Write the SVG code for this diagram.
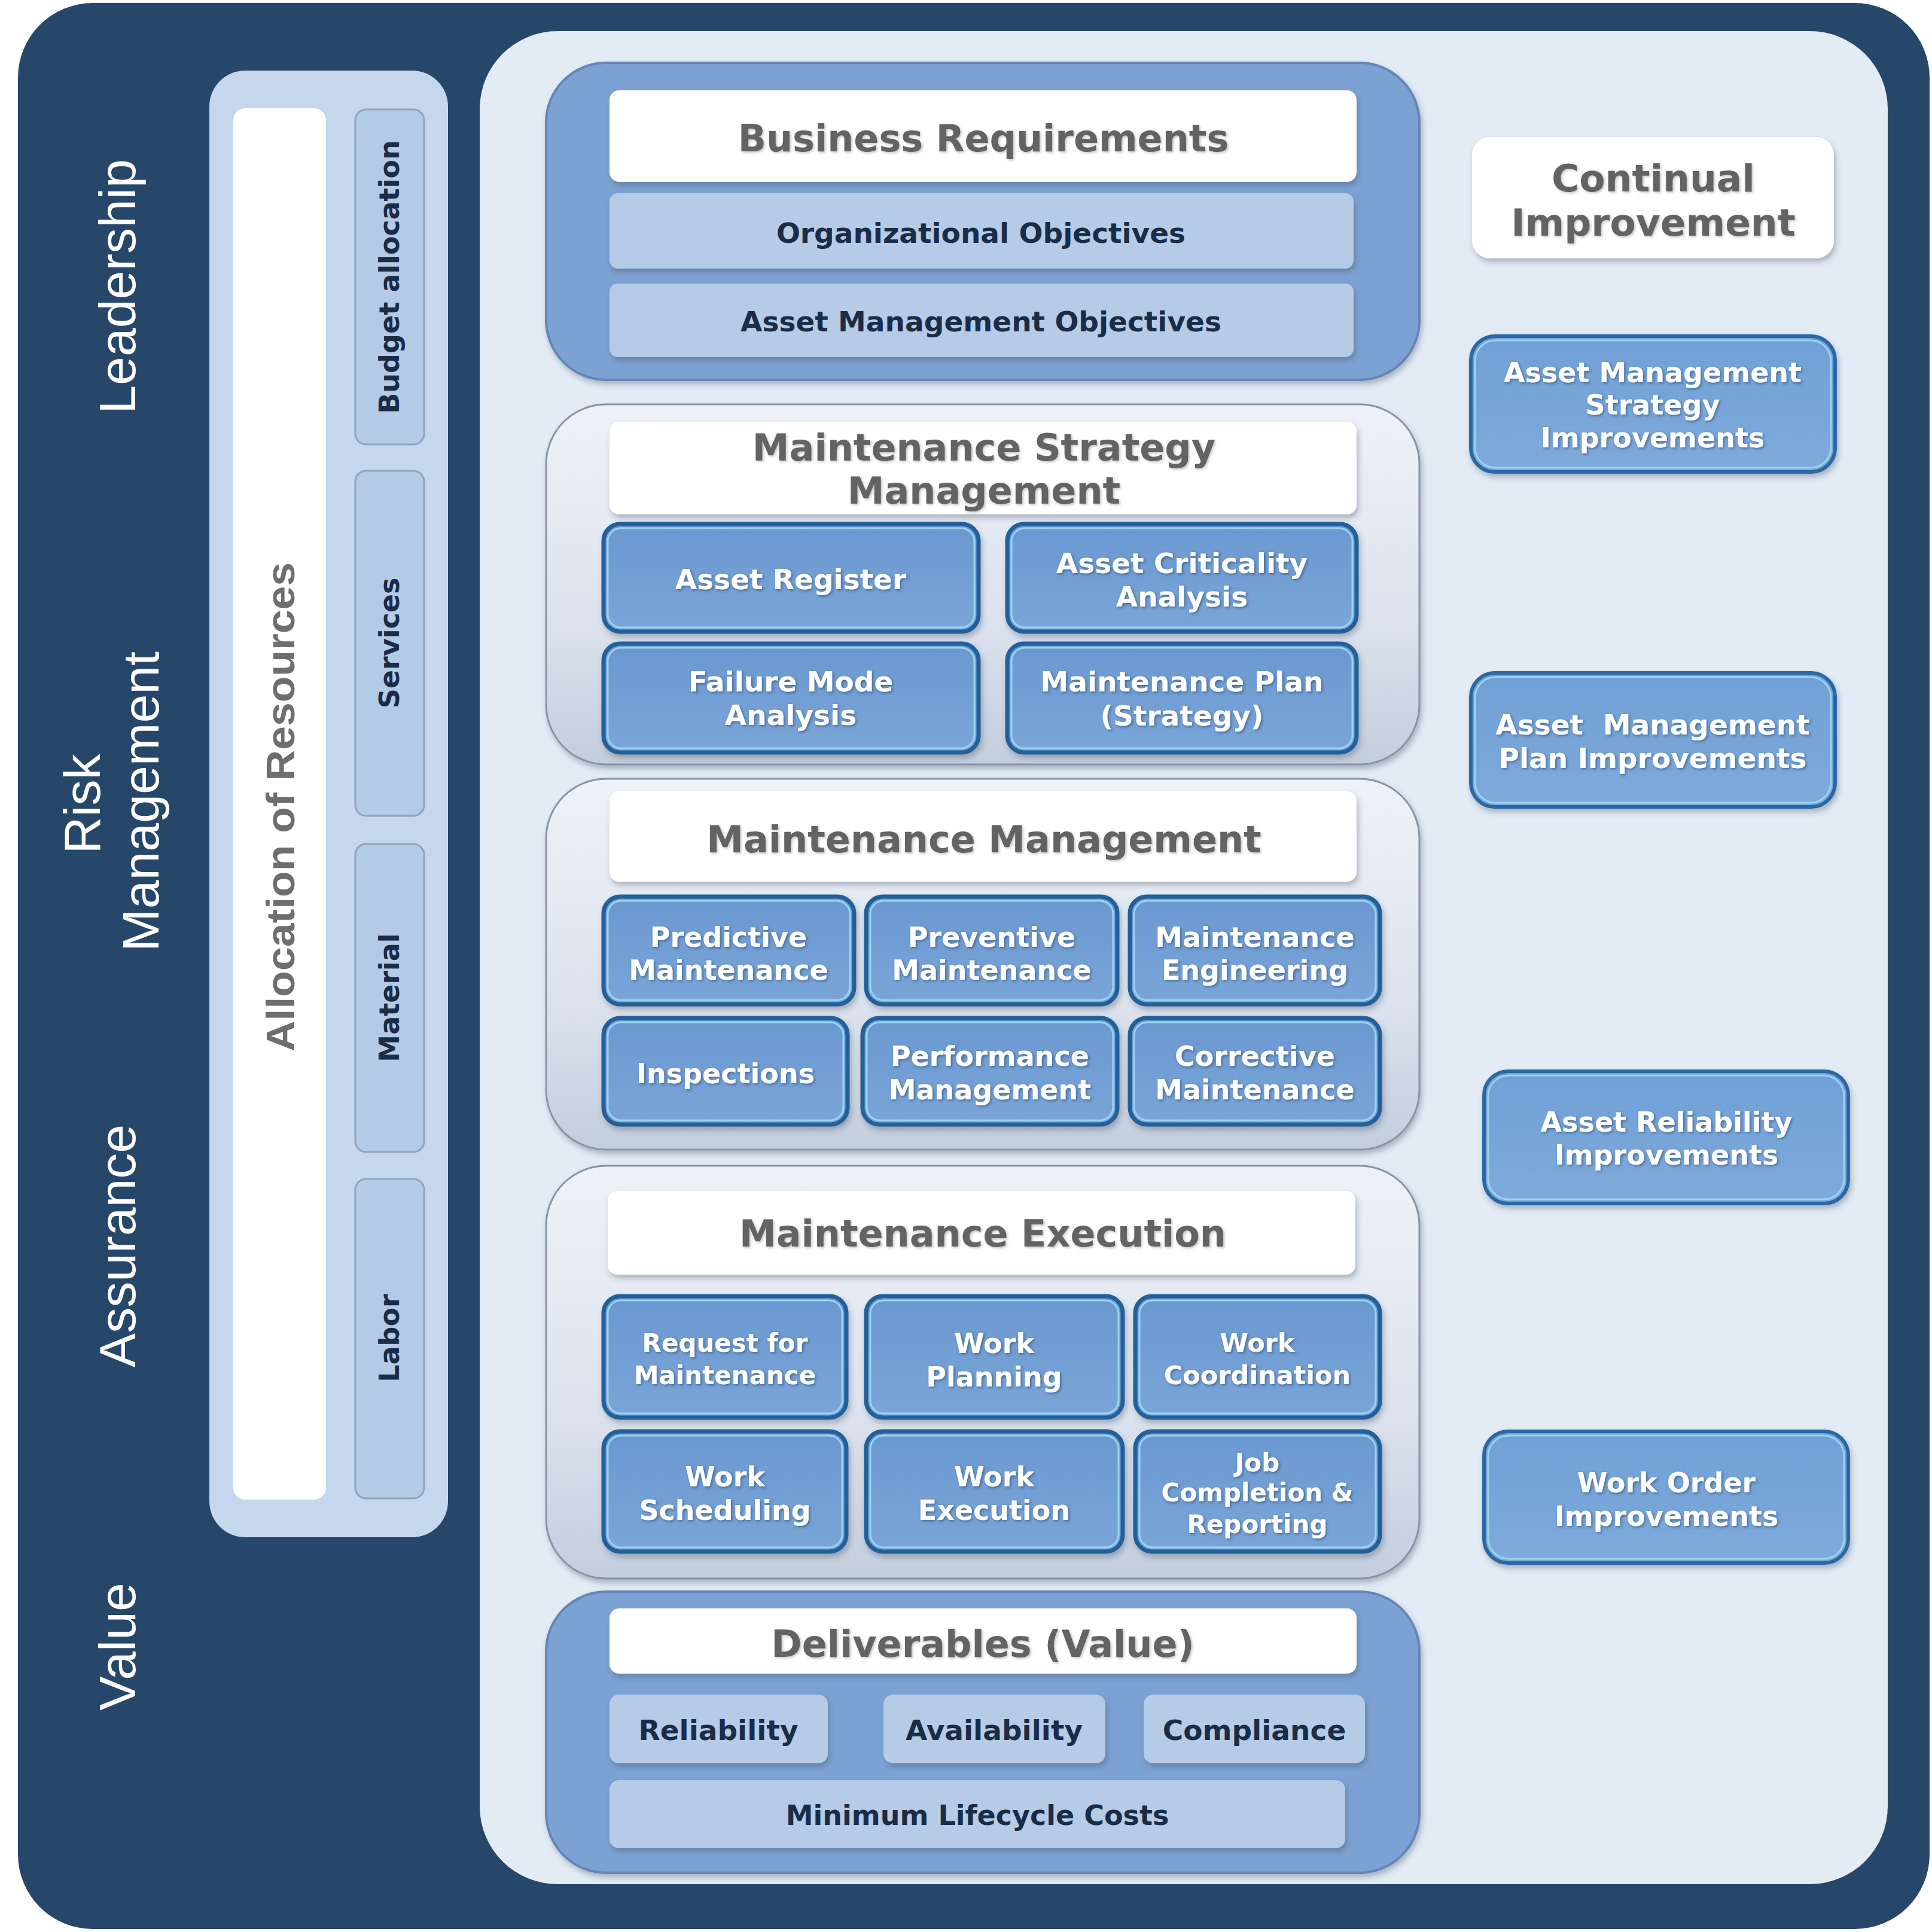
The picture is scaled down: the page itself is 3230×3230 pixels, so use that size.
<svg xmlns="http://www.w3.org/2000/svg" width="3230" height="3230" viewBox="0 0 3230 3230">
<defs>
<linearGradient id="gLight" x1="0" y1="0" x2="0" y2="1">
<stop offset="0" stop-color="#EEF2F8"/><stop offset="0.6" stop-color="#DCE3EE"/><stop offset="1" stop-color="#C3CDDC"/>
</linearGradient>
<linearGradient id="gBlue" x1="0" y1="0" x2="0" y2="1">
<stop offset="0" stop-color="#6A98D0"/><stop offset="1" stop-color="#7AA5D8"/>
</linearGradient>
<linearGradient id="gBlue2" x1="0" y1="0" x2="0" y2="1">
<stop offset="0" stop-color="#70A0D6"/><stop offset="1" stop-color="#7EAADB"/>
</linearGradient>
<filter id="sh" x="-10%" y="-10%" width="120%" height="130%">
<feDropShadow dx="3" dy="6" stdDeviation="5" flood-color="#3A4A60" flood-opacity="0.35"/>
</filter>
<filter id="ts" x="-5%" y="-20%" width="110%" height="140%">
<feDropShadow dx="2" dy="2" stdDeviation="2" flood-color="#1D3B5E" flood-opacity="0.55"/>
</filter>
<filter id="tg" x="-5%" y="-20%" width="110%" height="140%">
<feDropShadow dx="2" dy="2" stdDeviation="2" flood-color="#9A9A9A" flood-opacity="0.6"/>
</filter>
</defs>
<style>
.dark{fill:#27476A}
.panel{fill:#E3EBF5}
.respanel{fill:#C4D7EC}
.resbox{fill:#B4CBE6;stroke:#8FA3BD;stroke-width:3}
.secblue{fill:#7BA2D3;stroke:#6386B7;stroke-width:4}
.seclight{fill:url(#gLight);stroke:#8893A6;stroke-width:3}
.hdr{fill:#FFFFFF}
.bar{fill:#B5CBE6}
.bbox{fill:url(#gBlue);stroke:#22609A;stroke-width:7}
.rbox{fill:url(#gBlue2);stroke:#2A68A4;stroke-width:6}
.bin{fill:none;stroke:#9AD4F2;stroke-width:3}
.side{font-family:"Liberation Sans",Arial,sans-serif;font-size:86px;fill:#FFFFFF;text-anchor:middle}
.alloc{font-family:"Liberation Sans",Arial,sans-serif;font-weight:bold;font-size:66px;fill:#6E6E6E;text-anchor:middle}
.ht{font-family:"DejaVu Sans",Verdana,sans-serif;font-weight:bold;font-size:62px;fill:#636363;text-anchor:middle}
.dt{font-family:"DejaVu Sans",Verdana,sans-serif;font-weight:bold;font-size:47px;fill:#1B2C47;text-anchor:middle}
.wt{font-family:"DejaVu Sans",Verdana,sans-serif;font-weight:bold;font-size:46px;fill:#FFFFFF;text-anchor:middle}
</style>

<g id="background">
<rect class="dark" x="30" y="5" width="3196" height="3220" rx="125"/>
<rect class="panel" x="802" y="52" width="2354" height="3098" rx="130"/>
</g>

<g id="side-labels">
<text class="side" transform="translate(226,479) rotate(-90)">Leadership</text>
<text class="side" transform="translate(167,1344) rotate(-90)">Risk</text>
<text class="side" transform="translate(265,1340) rotate(-90)">Management</text>
<text class="side" transform="translate(226,2083) rotate(-90)">Assurance</text>
<text class="side" transform="translate(226,2753) rotate(-90)">Value</text>
</g>

<g id="resources">
<rect class="respanel" x="350" y="118" width="399" height="2452" rx="60"/>
<rect x="390" y="181" width="155" height="2326" rx="20" fill="#FFFFFF"/>
<text class="alloc" transform="translate(492,1349) rotate(-90)" textLength="818" lengthAdjust="spacingAndGlyphs">Allocation of Resources</text>
<g id="budget"><rect class="resbox" x="594" y="183" width="115" height="560" rx="18"/><text class="dt" style="font-size:46px" transform="translate(667,463) rotate(-90)">Budget allocation</text></g>
<g id="services"><rect class="resbox" x="594" y="787" width="115" height="577" rx="18"/><text class="dt" style="font-size:46px" transform="translate(667,1075) rotate(-90)">Services</text></g>
<g id="material"><rect class="resbox" x="594" y="1411" width="115" height="515" rx="18"/><text class="dt" style="font-size:46px" transform="translate(667,1668) rotate(-90)">Material</text></g>
<g id="labor"><rect class="resbox" x="594" y="1971" width="115" height="534" rx="18"/><text class="dt" style="font-size:46px" transform="translate(667,2237) rotate(-90)">Labor</text></g>
</g>

<g id="business-requirements">
<rect class="secblue" x="913" y="105" width="1460" height="530" rx="100" filter="url(#sh)"/>
<rect class="hdr" x="1019" y="151" width="1249" height="153" rx="16" filter="url(#sh)"/>
<text class="ht" x="1644" y="253" filter="url(#tg)">Business Requirements</text>
<g id="org-objectives"><rect class="bar" x="1019" y="323" width="1244" height="126" rx="14" filter="url(#sh)"/><text class="dt" x="1640" y="406">Organizational Objectives</text></g>
<g id="am-objectives"><rect class="bar" x="1019" y="474" width="1244" height="123" rx="14" filter="url(#sh)"/><text class="dt" x="1640" y="554">Asset Management Objectives</text></g>
</g>

<g id="strategy-management">
<rect class="seclight" x="913" y="676" width="1460" height="602" rx="100" filter="url(#sh)"/>
<rect class="hdr" x="1019" y="705" width="1249" height="155" rx="16" filter="url(#sh)"/>
<text class="ht" x="1645" y="770" filter="url(#tg)">Maintenance Strategy</text>
<text class="ht" x="1645" y="842" filter="url(#tg)">Management</text>
<g id="asset-register"><rect class="bbox" x="1009" y="876" width="627" height="180" rx="28" filter="url(#sh)"/><rect class="bin" x="1016" y="883" width="613" height="166" rx="22"/><text class="wt" style="font-size:47px" x="1322" y="985" filter="url(#ts)">Asset Register</text></g>
<g id="asset-criticality"><rect class="bbox" x="1684" y="876" width="584" height="180" rx="28" filter="url(#sh)"/><rect class="bin" x="1691" y="883" width="570" height="166" rx="22"/><text class="wt" style="font-size:47px" x="1976" y="958" filter="url(#ts)">Asset Criticality</text><text class="wt" style="font-size:47px" x="1976" y="1014" filter="url(#ts)">Analysis</text></g>
<g id="failure-mode"><rect class="bbox" x="1009" y="1076" width="627" height="182" rx="28" filter="url(#sh)"/><rect class="bin" x="1016" y="1083" width="613" height="168" rx="22"/><text class="wt" style="font-size:47px" x="1322" y="1156" filter="url(#ts)">Failure Mode</text><text class="wt" style="font-size:47px" x="1322" y="1212" filter="url(#ts)">Analysis</text></g>
<g id="maintenance-plan"><rect class="bbox" x="1684" y="1076" width="584" height="182" rx="28" filter="url(#sh)"/><rect class="bin" x="1691" y="1083" width="570" height="168" rx="22"/><text class="wt" style="font-size:47px" x="1976" y="1156" filter="url(#ts)">Maintenance Plan</text><text class="wt" style="font-size:47px" x="1976" y="1213" filter="url(#ts)">(Strategy)</text></g>
</g>

<g id="maintenance-management">
<rect class="seclight" x="913" y="1302" width="1460" height="620" rx="100" filter="url(#sh)"/>
<rect class="hdr" x="1019" y="1323" width="1249" height="151" rx="16" filter="url(#sh)"/>
<text class="ht" x="1645" y="1425" filter="url(#tg)">Maintenance Management</text>
<g id="predictive"><rect class="bbox" x="1009" y="1499" width="419" height="180" rx="28" filter="url(#sh)"/><rect class="bin" x="1016" y="1506" width="405" height="166" rx="22"/><text class="wt" x="1218" y="1583" filter="url(#ts)">Predictive</text><text class="wt" x="1218" y="1638" filter="url(#ts)">Maintenance</text></g>
<g id="preventive"><rect class="bbox" x="1448" y="1499" width="420" height="180" rx="28" filter="url(#sh)"/><rect class="bin" x="1455" y="1506" width="406" height="166" rx="22"/><text class="wt" x="1658" y="1583" filter="url(#ts)">Preventive</text><text class="wt" x="1658" y="1638" filter="url(#ts)">Maintenance</text></g>
<g id="maint-engineering"><rect class="bbox" x="1889" y="1499" width="418" height="180" rx="28" filter="url(#sh)"/><rect class="bin" x="1896" y="1506" width="404" height="166" rx="22"/><text class="wt" x="2098" y="1583" filter="url(#ts)">Maintenance</text><text class="wt" x="2098" y="1638" filter="url(#ts)">Engineering</text></g>
<g id="inspections"><rect class="bbox" x="1009" y="1702" width="408" height="178" rx="28" filter="url(#sh)"/><rect class="bin" x="1016" y="1709" width="394" height="164" rx="22"/><text class="wt" x="1213" y="1811" filter="url(#ts)">Inspections</text></g>
<g id="performance"><rect class="bbox" x="1442" y="1702" width="426" height="178" rx="28" filter="url(#sh)"/><rect class="bin" x="1449" y="1709" width="412" height="164" rx="22"/><text class="wt" x="1655" y="1782" filter="url(#ts)">Performance</text><text class="wt" x="1655" y="1838" filter="url(#ts)">Management</text></g>
<g id="corrective"><rect class="bbox" x="1889" y="1702" width="418" height="178" rx="28" filter="url(#sh)"/><rect class="bin" x="1896" y="1709" width="404" height="164" rx="22"/><text class="wt" x="2098" y="1782" filter="url(#ts)">Corrective</text><text class="wt" x="2098" y="1838" filter="url(#ts)">Maintenance</text></g>
</g>

<g id="maintenance-execution">
<rect class="seclight" x="913" y="1949" width="1460" height="690" rx="100" filter="url(#sh)"/>
<rect class="hdr" x="1016" y="1991" width="1250" height="140" rx="16" filter="url(#sh)"/>
<text class="ht" x="1643" y="2084" filter="url(#tg)">Maintenance Execution</text>
<g id="request"><rect class="bbox" x="1009" y="2167" width="406" height="203" rx="28" filter="url(#sh)"/><rect class="bin" x="1016" y="2174" width="392" height="189" rx="22"/><text class="wt" style="font-size:42px" x="1212" y="2260" filter="url(#ts)">Request for</text><text class="wt" style="font-size:42px" x="1212" y="2314" filter="url(#ts)">Maintenance</text></g>
<g id="work-planning"><rect class="bbox" x="1448" y="2167" width="429" height="203" rx="28" filter="url(#sh)"/><rect class="bin" x="1455" y="2174" width="415" height="189" rx="22"/><text class="wt" x="1662" y="2262" filter="url(#ts)">Work</text><text class="wt" x="1662" y="2318" filter="url(#ts)">Planning</text></g>
<g id="work-coordination"><rect class="bbox" x="1898" y="2167" width="409" height="203" rx="28" filter="url(#sh)"/><rect class="bin" x="1905" y="2174" width="395" height="189" rx="22"/><text class="wt" style="font-size:43px" x="2102" y="2260" filter="url(#ts)">Work</text><text class="wt" style="font-size:43px" x="2102" y="2314" filter="url(#ts)">Coordination</text></g>
<g id="work-scheduling"><rect class="bbox" x="1009" y="2393" width="406" height="201" rx="28" filter="url(#sh)"/><rect class="bin" x="1016" y="2400" width="392" height="187" rx="22"/><text class="wt" x="1212" y="2485" filter="url(#ts)">Work</text><text class="wt" x="1212" y="2541" filter="url(#ts)">Scheduling</text></g>
<g id="work-execution"><rect class="bbox" x="1448" y="2393" width="429" height="201" rx="28" filter="url(#sh)"/><rect class="bin" x="1455" y="2400" width="415" height="187" rx="22"/><text class="wt" x="1662" y="2485" filter="url(#ts)">Work</text><text class="wt" x="1662" y="2541" filter="url(#ts)">Execution</text></g>
<g id="job-completion"><rect class="bbox" x="1898" y="2393" width="409" height="201" rx="28" filter="url(#sh)"/><rect class="bin" x="1905" y="2400" width="395" height="187" rx="22"/><text class="wt" style="font-size:42px" x="2102" y="2460" filter="url(#ts)">Job</text><text class="wt" style="font-size:42px" x="2102" y="2510" filter="url(#ts)">Completion &amp;</text><text class="wt" style="font-size:42px" x="2102" y="2563" filter="url(#ts)">Reporting</text></g>
</g>

<g id="deliverables">
<rect class="secblue" x="913" y="2661" width="1460" height="470" rx="100" filter="url(#sh)"/>
<rect class="hdr" x="1019" y="2689" width="1249" height="109" rx="16" filter="url(#sh)"/>
<text class="ht" x="1643" y="2770" filter="url(#tg)">Deliverables (Value)</text>
<g id="reliability"><rect class="bar" x="1019" y="2833" width="365" height="115" rx="16" filter="url(#sh)"/><text class="dt" x="1201" y="2909">Reliability</text></g>
<g id="availability"><rect class="bar" x="1477" y="2833" width="371" height="115" rx="16" filter="url(#sh)"/><text class="dt" x="1662" y="2909">Availability</text></g>
<g id="compliance"><rect class="bar" x="1912" y="2833" width="370" height="115" rx="16" filter="url(#sh)"/><text class="dt" x="2097" y="2909">Compliance</text></g>
<g id="lifecycle"><rect class="bar" x="1019" y="2976" width="1230" height="114" rx="16" filter="url(#sh)"/><text class="dt" style="font-size:46px" x="1634" y="3051">Minimum Lifecycle Costs</text></g>
</g>

<g id="continual-improvement">
<rect class="hdr" x="2461" y="229" width="605" height="203" rx="30" filter="url(#sh)"/>
<text class="ht" style="font-size:63px" x="2764" y="320" filter="url(#tg)">Continual</text>
<text class="ht" style="font-size:63px" x="2764" y="394" filter="url(#tg)">Improvement</text>
</g>
<g id="am-strategy-improvements"><rect class="rbox" x="2459" y="562" width="609" height="227" rx="40" filter="url(#sh)"/><rect class="bin" x="2466" y="569" width="595" height="213" rx="34"/><text class="wt" x="2763" y="639" filter="url(#ts)">Asset Management</text><text class="wt" x="2763" y="693" filter="url(#ts)">Strategy</text><text class="wt" x="2763" y="748" filter="url(#ts)">Improvements</text></g>
<g id="am-plan-improvements"><rect class="rbox" x="2459" y="1125" width="609" height="224" rx="40" filter="url(#sh)"/><rect class="bin" x="2466" y="1132" width="595" height="210" rx="34"/><text class="wt" style="font-size:47px;white-space:pre" x="2763" y="1228" filter="url(#ts)">Asset  Management</text><text class="wt" style="font-size:47px" x="2763" y="1284" filter="url(#ts)">Plan Improvements</text></g>
<g id="asset-reliability-improvements"><rect class="rbox" x="2481" y="1791" width="609" height="221" rx="40" filter="url(#sh)"/><rect class="bin" x="2488" y="1798" width="595" height="207" rx="34"/><text class="wt" x="2786" y="1892" filter="url(#ts)">Asset Reliability</text><text class="wt" x="2786" y="1947" filter="url(#ts)">Improvements</text></g>
<g id="work-order-improvements"><rect class="rbox" x="2481" y="2393" width="609" height="220" rx="40" filter="url(#sh)"/><rect class="bin" x="2488" y="2400" width="595" height="206" rx="34"/><text class="wt" x="2786" y="2495" filter="url(#ts)">Work Order</text><text class="wt" x="2786" y="2551" filter="url(#ts)">Improvements</text></g>

<g id="connectors"/>
</svg>
